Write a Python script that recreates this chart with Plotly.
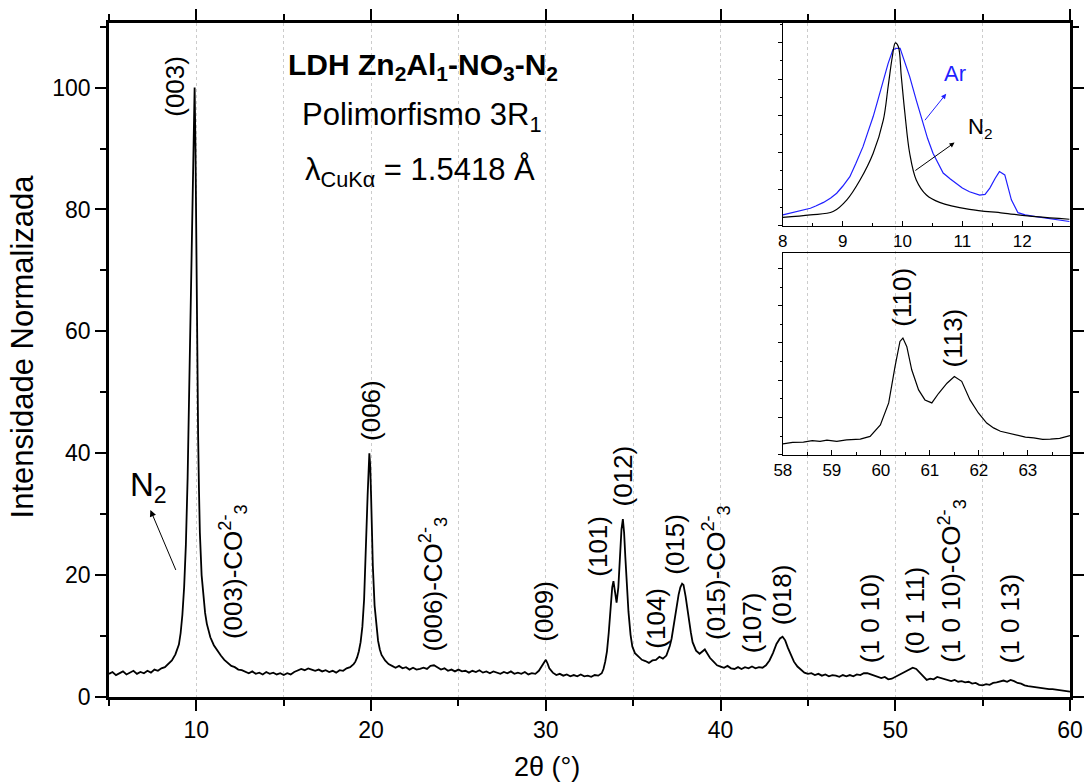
import plotly.graph_objects as go

# ---------------- main diffractogram (N2) ----------------
two_theta = [
    5.0, 5.2, 5.4, 5.6, 5.8, 6.0, 6.2, 6.4, 6.6, 6.8, 7.0, 7.2, 7.4, 7.6, 7.8, 8.0, 8.2, 8.4, 8.6, 8.8,
    9.0, 9.1, 9.2, 9.3, 9.4, 9.5, 9.6, 9.7, 9.8, 9.9, 9.95, 10.0, 10.05, 10.1, 10.15, 10.2, 10.3, 10.4,
    10.5, 10.6, 10.7, 10.8, 11.0, 11.2, 11.4, 11.6, 11.8, 12.0, 12.2, 12.4, 12.6, 12.8,
    13.0, 13.2, 13.4, 13.6, 13.8, 14.0, 14.2, 14.4, 14.6, 14.8, 15.0, 15.2, 15.4, 15.6, 15.8, 16.0,
    16.2, 16.4, 16.6, 16.8, 17.0, 17.2, 17.4, 17.6, 17.8, 18.0, 18.2, 18.4, 18.6, 18.8,
    19.0, 19.1, 19.2, 19.3, 19.4, 19.5, 19.6, 19.7, 19.8, 19.9, 19.95, 20.0, 20.05, 20.1, 20.2, 20.3,
    20.4, 20.5, 20.6, 20.8, 21.0, 21.2,
    21.4, 21.6, 21.8, 22.0, 22.2, 22.4, 22.6, 22.8, 23.0, 23.2, 23.4, 23.6, 23.8, 24.0, 24.2, 24.4,
    24.6, 24.8, 25.0, 25.2, 25.4, 25.6, 25.8, 26.0, 26.2, 26.4, 26.6, 26.8, 27.0, 27.2, 27.4, 27.6,
    27.8, 28.0, 28.2, 28.4, 28.6, 28.8, 29.0, 29.2, 29.4, 29.6, 29.8, 29.9, 30.0, 30.1, 30.2, 30.4,
    30.6, 30.8, 31.0, 31.2, 31.4, 31.6, 31.8, 32.0, 32.2, 32.4, 32.6, 32.8, 33.0, 33.2,
    33.3, 33.4, 33.5, 33.6, 33.7, 33.8, 33.87, 33.95, 34.05, 34.15, 34.25, 34.33, 34.41, 34.48, 34.55,
    34.63, 34.73, 34.85, 34.95, 35.1, 35.3, 35.5, 35.7, 35.9, 36.1, 36.3, 36.5, 36.7, 36.9, 37.0,
    37.1, 37.2, 37.3, 37.4, 37.5, 37.6, 37.7, 37.8, 37.88, 38.0, 38.1, 38.2, 38.3, 38.4, 38.5, 38.6,
    38.8, 38.95, 39.1, 39.25, 39.4, 39.6, 39.8, 40.0, 40.2, 40.4, 40.6, 40.8, 41.0, 41.2, 41.4, 41.6,
    41.8, 42.0, 42.2, 42.4, 42.6, 42.8, 43.0, 43.2, 43.4, 43.55, 43.7, 43.85, 44.0, 44.2, 44.4, 44.6,
    44.8, 45.0,
    45.2, 45.4, 45.6, 45.8, 46.0, 46.2, 46.4, 46.6, 46.8, 47.0, 47.2, 47.4, 47.6, 47.8, 48.0, 48.2,
    48.4, 48.6, 48.8, 49.0, 49.2, 49.4, 49.6, 49.8, 50.0, 50.2, 50.4, 50.6, 50.8, 51.0, 51.2, 51.4,
    51.6, 51.8, 52.0, 52.2, 52.4, 52.6, 52.8, 53.0, 53.2, 53.4, 53.6, 53.8, 54.0, 54.2, 54.4, 54.6,
    54.8, 55.0, 55.2, 55.4, 55.6, 55.8, 56.0, 56.2, 56.4, 56.6, 56.8, 57.0, 57.2, 57.4, 57.6, 57.8,
    58.0, 58.2, 58.4, 58.6, 58.8, 59.0, 59.2, 59.4, 59.6, 59.8, 60.0,
]
intensity = [
    3.8, 4.1, 3.6, 3.9, 4.2, 3.7, 4.0, 4.3, 3.8, 4.1, 3.9, 4.3, 4.0, 4.5, 4.3, 4.7, 4.9, 5.4, 6.0, 7.0,
    8.6, 10.5, 13.5, 18.0, 25.0, 36.0, 52.0, 68.0, 84.0, 100.0, 90.0, 72.0, 56.0, 43.0, 34.0, 27.0, 20.0, 16.5,
    13.8, 12.0, 10.8, 9.8, 8.5, 7.6, 6.8, 6.1, 5.6, 5.1, 4.9, 4.5, 4.4, 4.1,
    3.9, 4.2, 3.8, 4.0, 3.7, 4.1, 3.8, 4.0, 3.7, 3.9, 3.6, 3.9, 3.7, 4.1, 4.3, 4.6,
    4.4, 4.7, 4.5, 4.3, 4.5, 4.2, 4.4, 4.1, 4.3, 4.0, 4.4, 4.3, 4.7, 4.9,
    5.4, 5.8, 6.5, 7.5, 9.0, 11.5, 16.0, 23.0, 33.0, 40.0, 38.0, 33.0, 27.0, 21.5, 15.0, 11.5,
    9.2, 7.8, 6.9, 6.0, 5.4, 5.1,
    4.8, 5.1, 4.7, 4.9, 4.5, 4.8, 4.5, 4.6, 4.8, 4.6, 5.1, 5.2, 4.8, 4.5, 4.7, 4.3,
    4.5, 4.2, 4.5, 4.2, 4.3, 4.0, 4.3, 4.1, 4.4, 4.0, 4.2, 3.9, 4.2, 4.0, 3.8, 4.1,
    3.9, 4.2, 3.8, 4.0, 3.8, 4.1, 3.7, 3.9, 3.8, 4.3, 5.2, 5.8, 6.1, 5.5, 4.7, 4.0,
    3.6, 3.8, 3.5, 3.7, 3.4, 3.6, 3.4, 3.7, 3.4, 3.5, 3.3, 3.6, 3.5, 3.9,
    4.6, 5.8, 7.5, 10.5, 14.5, 18.0, 19.0, 17.5, 15.5, 18.0, 23.5, 27.5, 29.2, 27.0, 23.0,
    18.5, 14.0, 10.2, 8.3, 7.2, 6.6, 6.1, 5.9, 5.6, 6.0, 6.1, 6.6, 6.3, 6.8, 7.5,
    8.4, 9.6, 11.2, 13.0, 15.0, 16.8, 18.0, 18.6, 18.4, 16.5, 14.3, 12.4, 10.6, 9.0, 8.2, 7.6,
    7.1, 7.4, 7.8, 7.1, 6.4, 5.8, 5.2, 5.0, 4.8, 5.1, 4.7, 4.6, 4.9, 4.6, 4.9, 4.7,
    5.0, 4.7, 4.9, 4.8, 5.2, 6.0, 7.2, 8.7, 9.6, 9.9, 9.3, 8.1, 7.1, 5.8, 5.0, 4.5,
    4.0, 3.8,
    3.9, 3.6, 3.8, 3.5, 3.7, 3.4, 3.6, 3.5, 3.3, 3.6, 3.4, 3.6, 3.4, 3.7, 3.6, 3.9,
    3.9, 3.7, 3.5, 3.4, 3.1, 3.3, 2.9, 3.0, 3.3, 3.6, 3.9, 4.2, 4.4, 4.8, 4.6, 4.0,
    3.3, 2.8, 3.0, 2.9, 3.3, 3.1, 2.9, 2.8, 2.6, 2.8, 2.5, 2.6, 2.4, 2.5, 2.2, 2.3,
    2.0, 1.9, 2.1, 2.0, 2.3, 2.4, 2.6, 2.7, 2.5, 2.8, 2.6, 2.3, 2.2, 1.9, 1.8, 1.7,
    1.6, 1.5, 1.5, 1.4, 1.3, 1.3, 1.2, 1.1, 1.0, 0.95, 0.87,
]

# ---------------- inset 1: (003) region, N2 vs Ar ----------------
low_theta_n2 = [8.0, 8.46, 8.84, 9.07, 9.29, 9.51, 9.68, 9.76, 9.83, 9.88, 9.93, 9.98, 10.04,
                10.12, 10.23, 10.4, 10.62, 11.12, 11.68, 12.23, 12.79]
low_int_n2 = [0.23, 0.30, 0.39, 0.71, 1.25, 1.98, 2.89, 3.80, 4.61, 4.99, 4.89, 4.07, 3.07,
              1.98, 1.25, 0.84, 0.64, 0.45, 0.35, 0.25, 0.18]
low_theta_ar = [8.0, 8.1, 8.18, 8.3, 8.46, 8.55, 8.68, 8.8, 8.9, 9.0, 9.12, 9.22, 9.34, 9.42, 9.51,
                9.58, 9.65, 9.71, 9.76, 9.84, 9.9, 9.96, 10.04, 10.12, 10.23, 10.34, 10.42, 10.51,
                10.6, 10.68, 10.8, 10.9, 11.0, 11.12, 11.2, 11.29, 11.38, 11.46, 11.55, 11.62,
                11.71, 11.82, 11.93, 12.05, 12.23, 12.5, 12.79]
low_int_ar = [0.30, 0.34, 0.36, 0.40, 0.48, 0.54, 0.64, 0.76, 0.89, 1.08, 1.34, 1.70, 2.16, 2.55, 2.98,
              3.38, 3.80, 4.12, 4.43, 4.80, 4.84, 4.84, 4.43, 4.07, 3.43, 2.80, 2.38, 1.98,
              1.68, 1.44, 1.28, 1.16, 1.03, 0.93, 0.88, 0.84, 0.86, 1.03, 1.30, 1.48,
              1.39, 0.71, 0.36, 0.30, 0.25, 0.18, 0.12]

# ---------------- inset 2: (110)/(113) region ----------------
high_theta = [58.0, 58.2, 58.42, 58.6, 58.76, 58.9, 59.1, 59.3, 59.58, 59.78, 59.99, 60.16, 60.29,
              60.39, 60.45, 60.53, 60.63, 60.77, 60.9, 61.04, 61.18, 61.35, 61.5, 61.65, 61.82,
              61.99, 62.16, 62.3, 62.44, 62.6, 62.78, 62.95, 63.12, 63.3, 63.46, 63.65, 63.86]
high_int = [0.29, 0.33, 0.34, 0.38, 0.36, 0.39, 0.36, 0.40, 0.42, 0.49, 0.80, 1.39, 2.37,
            3.04, 3.13, 2.90, 2.28, 1.74, 1.47, 1.39, 1.65, 1.92, 2.10, 1.97, 1.47,
            1.12, 0.85, 0.72, 0.63, 0.58, 0.51, 0.47, 0.45, 0.41, 0.42, 0.44, 0.51]

# Miller-index labels: (text, 2theta, height)
peak_labels = [
    ("(003)", 8.80, 100.2),
    ("(003)-CO<sup>2-</sup><sub>3</sub>", 12.13, 20.6),
    ("(006)", 19.96, 47.0),
    ("(006)-CO<sup>2-</sup><sub>3</sub>", 23.56, 18.5),
    ("(009)", 29.9, 14.0),
    ("(101)", 33.0, 24.7),
    ("(012)", 34.4, 36.3),
    ("(104)", 36.3, 13.0),
    ("(015)", 37.4, 25.0),
    ("(015)-CO<sup>2-</sup><sub>3</sub>", 39.7, 20.4),
    ("(107)", 41.8, 12.1),
    ("(018)", 43.5, 16.8),
    ("(1 0 10)", 48.6, 12.9),
    ("(0 1 11)", 51.16, 14.1),
    ("(1 0 10)-CO<sup>2-</sup><sub>3</sub>", 53.2, 19.1),
    ("(1 0 13)", 56.57, 12.9),
]
inset_labels = [("(110)", 60.43, 4.24), ("(113)", 61.48, 3.13)]

FONT = "Liberation Sans, Arial, Helvetica, sans-serif"

fig = go.Figure()
fig.add_trace(go.Scatter(x=two_theta, y=intensity, mode="lines",
                         line=dict(color="black", width=1.8), xaxis="x", yaxis="y",
                         showlegend=False, hoverinfo="skip"))
fig.add_trace(go.Scatter(x=low_theta_ar, y=low_int_ar, mode="lines",
                         line=dict(color="#1f1fff", width=1.2), xaxis="x2", yaxis="y2",
                         showlegend=False, hoverinfo="skip"))
fig.add_trace(go.Scatter(x=low_theta_n2, y=low_int_n2, mode="lines",
                         line=dict(color="black", width=1.2, shape="spline"), xaxis="x2", yaxis="y2",
                         showlegend=False, hoverinfo="skip"))
fig.add_trace(go.Scatter(x=high_theta, y=high_int, mode="lines",
                         line=dict(color="black", width=1.2), xaxis="x3", yaxis="y3",
                         showlegend=False, hoverinfo="skip"))

annotations = []
for text, xv, yv in peak_labels:
    annotations.append(dict(x=xv, y=yv, xref="x", yref="y", text=text, textangle=-90,
                            showarrow=False, xanchor="center", yanchor="middle",
                            font=dict(family=FONT, size=26, color="black")))
for text, xv, yv in inset_labels:
    annotations.append(dict(x=xv, y=yv, xref="x3", yref="y3", text=text, textangle=-90,
                            showarrow=False, xanchor="center", yanchor="middle",
                            font=dict(family=FONT, size=26, color="black")))

# header block
annotations += [
    dict(x=22.99, y=103.4, xref="x", yref="y", showarrow=False, xanchor="center", yanchor="middle",
         text="<b>LDH Zn<sub>2</sub>Al<sub>1</sub>-NO<sub>3</sub>-N<sub>2</sub></b>",
         font=dict(family=FONT, size=30, color="black")),
    dict(x=22.87, y=95.2, xref="x", yref="y", showarrow=False, xanchor="center", yanchor="middle",
         text="Polimorfismo 3R<sub>1</sub>",
         font=dict(family=FONT, size=31, color="black")),
    dict(x=22.8, y=86.1, xref="x", yref="y", showarrow=False, xanchor="center", yanchor="middle",
         text="λ<sub>CuKα</sub> = 1.5418 Å",
         font=dict(family=FONT, size=31, color="black")),
]

# N2 marker on the main pattern
annotations += [
    dict(x=7.25, y=34.5, xref="x", yref="y", showarrow=False, text="N<sub>2</sub>",
         xanchor="center", yanchor="middle",
         font=dict(family=FONT, size=33, color="black")),
    dict(x=7.37, y=30.7, ax=8.86, ay=20.6, xref="x", yref="y", axref="x", ayref="y",
         text="", showarrow=True, arrowhead=2, arrowsize=1.3, arrowwidth=1, arrowcolor="black"),
]

# inset 1 arrows and labels
annotations += [
    dict(x=10.73, y=3.60, ax=10.355, ay=2.84, xref="x2", yref="y2", axref="x2", ayref="y2",
         text="", showarrow=True, arrowhead=2, arrowsize=1, arrowwidth=1, arrowcolor="#1f1fff"),
    dict(x=10.87, y=4.16, xref="x2", yref="y2", showarrow=False, text="Ar",
         xanchor="center", yanchor="middle",
         font=dict(family=FONT, size=22, color="#1f1fff")),
    dict(x=10.87, y=2.27, ax=10.19, ay=1.48, xref="x2", yref="y2", axref="x2", ayref="y2",
         text="", showarrow=True, arrowhead=2, arrowsize=1, arrowwidth=1, arrowcolor="black"),
    dict(x=11.3, y=2.68, xref="x2", yref="y2", showarrow=False, text="N<sub>2</sub>",
         xanchor="center", yanchor="middle",
         font=dict(family=FONT, size=22, color="black")),
]

# axis titles
annotations += [
    dict(x=0.456, y=-0.1045, xref="paper", yref="paper", showarrow=False, text="2θ (°)",
         xanchor="center", yanchor="middle",
         font=dict(family=FONT, size=27, color="black")),
    dict(x=-0.0896, y=0.52, xref="paper", yref="paper", showarrow=False, textangle=-90,
         xanchor="center", yanchor="middle",
         text="Intensidade Normalizada", font=dict(family=FONT, size=31, color="black")),
]

grid_style = dict(showgrid=True, gridcolor="#cccccc", gridwidth=1, griddash="3px,3px")

fig.update_layout(
    width=1085, height=784,
    margin=dict(l=108.6, r=15, t=23, b=86.5, autoexpand=False),
    paper_bgcolor="white", plot_bgcolor="rgba(0,0,0,0)",
    font=dict(family=FONT, color="black"),
    showlegend=False,
    annotations=annotations,
    xaxis=dict(range=[5, 60], domain=[0, 1], anchor="y", tick0=0, dtick=10, automargin=False,
               ticks="outside", ticklen=11, tickwidth=2, tickcolor="black",
               showline=True, linewidth=2.5, linecolor="black", mirror="allticks",
               tickfont=dict(size=23), zeroline=False,
               minor=dict(dtick=5, ticks="outside", ticklen=6, tickwidth=2, tickcolor="black",
                          **grid_style),
               **grid_style),
    yaxis=dict(range=[0, 110.6], domain=[0, 1], anchor="x", tick0=0, dtick=20, automargin=False,
               ticks="outside", ticklen=11, tickwidth=2, tickcolor="black",
               showline=True, linewidth=2.5, linecolor="black", mirror="allticks",
               tickfont=dict(size=23), showgrid=False, zeroline=False,
               minor=dict(dtick=10, ticks="outside", ticklen=6, tickwidth=2, tickcolor="black",
                          showgrid=False)),
    xaxis2=dict(range=[8, 12.8], domain=[0.7012, 1], anchor="y2", dtick=1, automargin=False,
                ticks="inside", ticklen=5, tickwidth=1, tickcolor="black",
                showline=True, linewidth=1, linecolor="black", mirror=True,
                tickfont=dict(size=17), showgrid=False, zeroline=False,
                minor=dict(dtick=0.5, ticks="inside", ticklen=3, tickwidth=1, tickcolor="black")),
    yaxis2=dict(range=[0, 5.53], domain=[0.699, 1], anchor="x2", dtick=1, automargin=False,
                ticks="outside", ticklen=4, tickwidth=1, tickcolor="black",
                showline=True, linewidth=1, linecolor="black", mirror=True,
                showticklabels=False, showgrid=False, zeroline=False,
                minor=dict(dtick=0.5, ticks="outside", ticklen=2, tickwidth=1, tickcolor="black")),
    xaxis3=dict(range=[58, 63.86], domain=[0.7012, 1], anchor="y3", dtick=1, automargin=False,
                ticks="inside", ticklen=5, tickwidth=1, tickcolor="black",
                showline=True, linewidth=1, linecolor="black", mirror=True,
                tickfont=dict(size=17), showgrid=False, zeroline=False,
                minor=dict(dtick=0.5, ticks="inside", ticklen=3, tickwidth=1, tickcolor="black")),
    yaxis3=dict(range=[0, 5.42], domain=[0.3595, 0.659], anchor="x3", dtick=1, automargin=False,
                ticks="outside", ticklen=4, tickwidth=1, tickcolor="black",
                showline=True, linewidth=1, linecolor="black", mirror=True,
                showticklabels=False, showgrid=False, zeroline=False,
                minor=dict(dtick=0.5, ticks="outside", ticklen=2, tickwidth=1, tickcolor="black")),
)

fig.write_html("out.html")
